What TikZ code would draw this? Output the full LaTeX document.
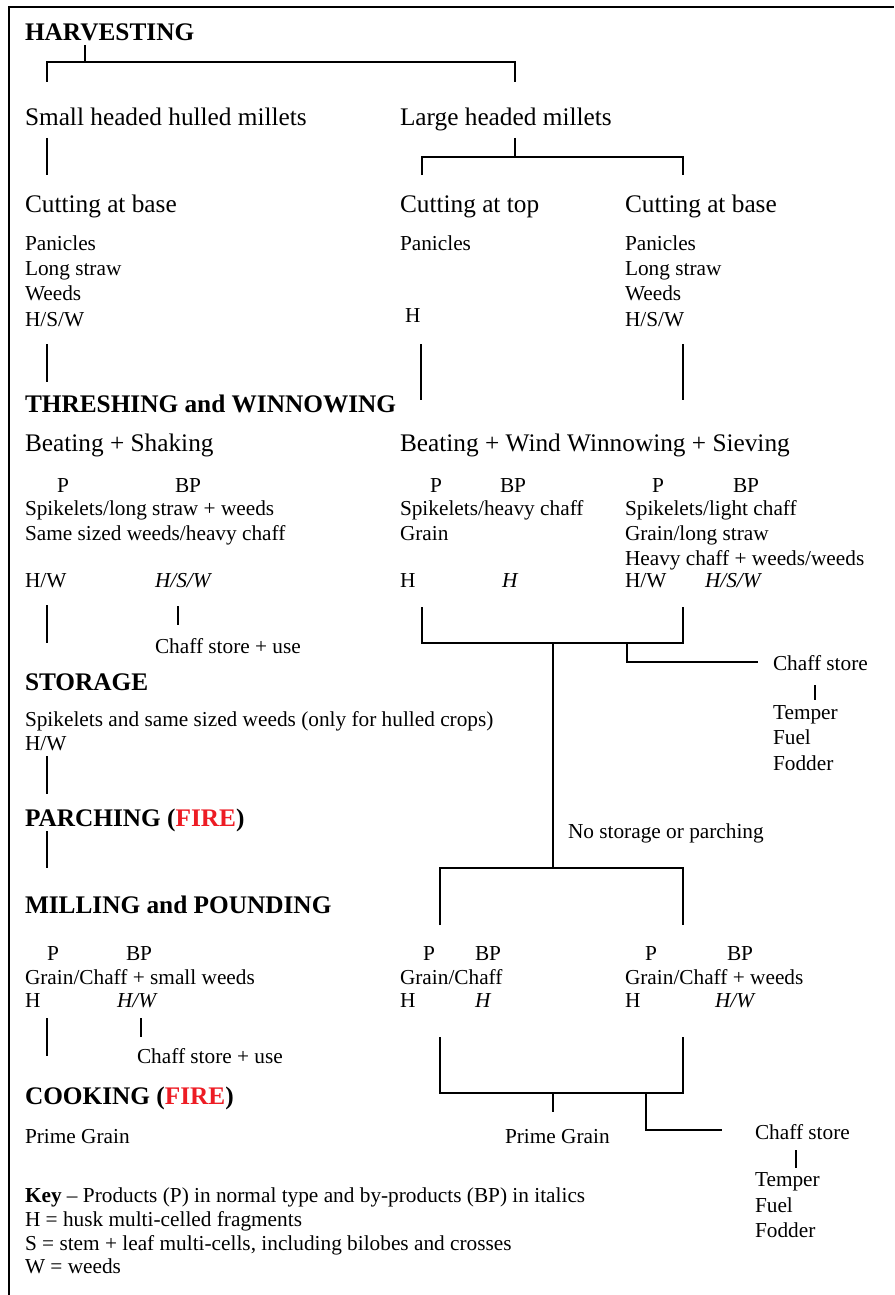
\documentclass[tikz,border=0pt]{standalone}
\usepackage{fontspec}
\setmainfont{Liberation Serif}
\definecolor{firered}{RGB}{237,28,36}
\begin{document}
\begin{tikzpicture}[x=1pt,y=-1pt,
 lbl/.style={anchor=base west,inner sep=0pt,outer sep=0pt},
 big/.style={lbl,font=\fontsize{25.3}{30}\selectfont},
 sm/.style={lbl,font=\fontsize{21.3}{25}\selectfont},
 smi/.style={lbl,font=\fontsize{21.3}{25}\selectfont\itshape},
 head/.style={lbl,font=\fontsize{25.3}{30}\selectfont\bfseries},
 conn/.style={line width=1.3pt},
 frameline/.style={line width=1.8pt}]
\useasboundingbox (0,0) rectangle (894,1295);
\draw[frameline] (9,1295) -- (9,7) -- (894,7);

% ---------- HARVESTING ----------
\node[head] (harv) at (25,41) {HARVESTING};
\node[big] (small) at (25,126) {Small headed hulled millets};
\node[big] (large) at (400,126) {Large headed millets};
\node[big] (cutbL) at (25,212) {Cutting at base};
\node[big] (cutt) at (400,212) {Cutting at top};
\node[big] (cutbR) at (625,212) {Cutting at base};

\node[sm] (panL) at (25,250) {Panicles};
\node[sm] (strL) at (25,275) {Long straw};
\node[sm] (wdL) at (25,300) {Weeds};
\node[sm] (hswL) at (25,326) {H/S/W};
\node[sm] (panM) at (400,250) {Panicles};
\node[sm] (hM) at (405,322) {H};
\node[sm] (panR) at (625,250) {Panicles};
\node[sm] (strR) at (625,275) {Long straw};
\node[sm] (wdR) at (625,300) {Weeds};
\node[sm] (hswR) at (625,326) {H/S/W};

\draw[conn] (85,45) -- (85,62);
\draw[conn] (47,82) -- (47,62) -- (515,62) -- (515,82);
\draw[conn] (47,138) -- (47,175);
\draw[conn] (515,138) -- (515,157);
\draw[conn] (422,175) -- (422,157) -- (683,157) -- (683,175);
\draw[conn] (47,344) -- (47,382);
\draw[conn] (421,344) -- (421,400);
\draw[conn] (683,344) -- (683,400);

% ---------- THRESHING ----------
\node[head] (thr) at (25,412) {THRESHING and WINNOWING};
\node[big] (beatL) at (25,451) {Beating + Shaking};
\node[big] (beatR) at (400,451) {Beating + Wind Winnowing + Sieving};

\node[sm] at (57,492) {P};
\node[sm] at (175,492) {BP};
\node[sm] at (25,515) {Spikelets/long straw + weeds};
\node[sm] at (25,540) {Same sized weeds/heavy chaff};
\node[sm] at (25,587) {H/W};
\node[smi] at (155,587) {H/S/W};

\node[sm] at (430,492) {P};
\node[sm] at (500,492) {BP};
\node[sm] at (400,515) {Spikelets/heavy chaff};
\node[sm] at (400,540) {Grain};
\node[sm] at (400,587) {H};
\node[smi] at (502,587) {H};

\node[sm] at (652,492) {P};
\node[sm] at (733,492) {BP};
\node[sm] at (625,515) {Spikelets/light chaff};
\node[sm] at (625,540) {Grain/long straw};
\node[sm] at (625,565) {Heavy chaff + weeds/weeds};
\node[sm] at (625,587) {H/W};
\node[smi] at (705,587) {H/S/W};

\node[sm] (csu1) at (155,653) {Chaff store + use};
\draw[conn] (47,605) -- (47,643);
\draw[conn] (178,606) -- (178,625);

\draw[conn] (422,607) -- (422,643) -- (683,643) -- (683,607);
\draw[conn] (553,643) -- (553,868);
\draw[conn] (627,643) -- (627,662) -- (758,662);
\node[sm] (cs1) at (773,670) {Chaff store};
\draw[conn] (815,685) -- (815,700);
\node[sm] at (773,719) {Temper};
\node[sm] at (773,744) {Fuel};
\node[sm] at (773,770) {Fodder};

% ---------- STORAGE ----------
\node[head] (stor) at (25,690) {STORAGE};
\node[sm] at (25,726) {Spikelets and same sized weeds (only for hulled crops)};
\node[sm] at (25,750) {H/W};
\draw[conn] (47,756) -- (47,794);

\node[head] (parch) at (25,826) {PARCHING (\textcolor{firered}{FIRE})};
\draw[conn] (47,831) -- (47,868);
\node[sm] (nosp) at (568,838) {No storage or parching};
\draw[conn] (440,925) -- (440,868) -- (683,868) -- (683,925);

% ---------- MILLING ----------
\node[head] (mill) at (25,913) {MILLING and POUNDING};
\node[sm] at (47,960) {P};
\node[sm] at (126,960) {BP};
\node[sm] at (25,984) {Grain/Chaff + small weeds};
\node[sm] at (25,1007) {H};
\node[smi] at (117,1007) {H/W};

\node[sm] at (423,960) {P};
\node[sm] at (475,960) {BP};
\node[sm] at (400,984) {Grain/Chaff};
\node[sm] at (400,1007) {H};
\node[smi] at (475,1007) {H};

\node[sm] at (645,960) {P};
\node[sm] at (727,960) {BP};
\node[sm] at (625,984) {Grain/Chaff + weeds};
\node[sm] at (625,1007) {H};
\node[smi] at (715,1007) {H/W};

\draw[conn] (47,1018) -- (47,1056);
\draw[conn] (141,1018) -- (141,1037);
\node[sm] (csu2) at (137,1063) {Chaff store + use};

\draw[conn] (440,1037) -- (440,1093) -- (683,1093) -- (683,1037);
\draw[conn] (553,1093) -- (553,1112);
\draw[conn] (646,1093) -- (646,1130) -- (722,1130);
\node[sm] (pg2) at (505,1143) {Prime Grain};
\node[sm] (cs2) at (755,1139) {Chaff store};
\draw[conn] (796,1150) -- (796,1168);
\node[sm] at (755,1186) {Temper};
\node[sm] at (755,1212) {Fuel};
\node[sm] at (755,1237) {Fodder};

% ---------- COOKING ----------
\node[head] (cook) at (25,1104) {COOKING (\textcolor{firered}{FIRE})};
\node[sm] (pg1) at (25,1143) {Prime Grain};

% ---------- KEY ----------
\node[sm] at (25,1202) {\textbf{Key} -- Products (P) in normal type and by-products (BP) in italics};
\node[sm] at (25,1226) {H = husk multi-celled fragments};
\node[sm] at (25,1250) {S = stem + leaf multi-cells, including bilobes and crosses};
\node[sm] at (25,1273) {W = weeds};
\end{tikzpicture}
\end{document}
